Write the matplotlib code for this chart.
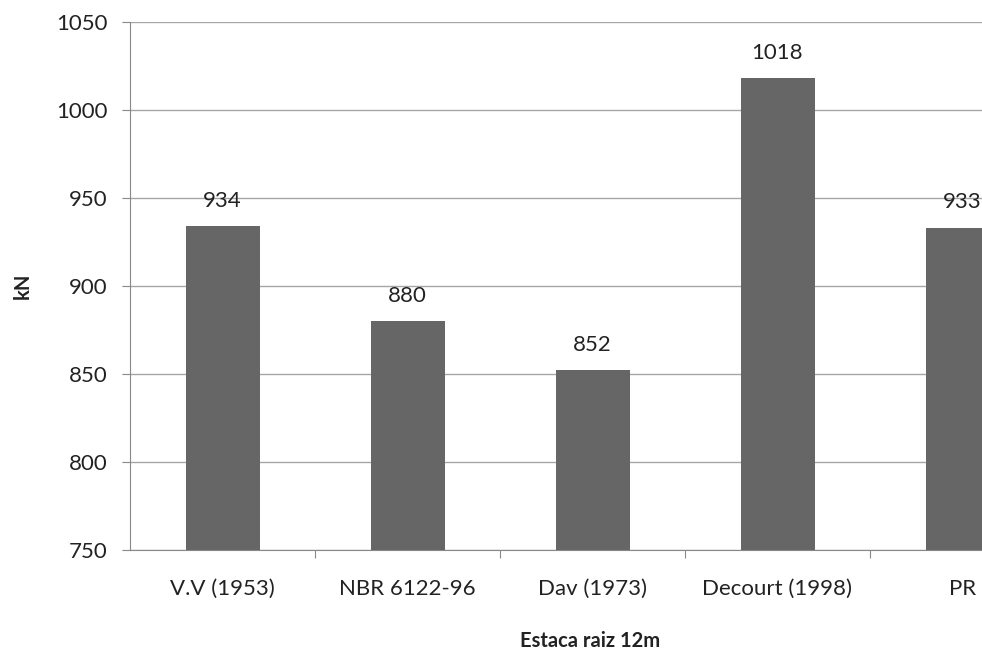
import matplotlib
matplotlib.use('Agg')
import matplotlib.pyplot as plt
import numpy as np

# Data
categories = ['V.V (1953)', 'NBR 6122-96', 'Dav (1973)', 'Decourt (1998)', 'PR']
values = [934, 880, 852, 1018, 933]
y_ticks = [750, 800, 850, 900, 950, 1000, 1050]

plt.rcParams['font.family'] = ['Lato', 'DejaVu Sans']

fig = plt.figure(figsize=(9.82, 6.5), dpi=100)
# plot area; the right side of the original chart is cut off by the image edge
ax = fig.add_axes([130 / 982, 100 / 650, 852 / 982, 528 / 650])

x = np.arange(len(categories))
ax.bar(x, values, width=0.4, color='#666666', zorder=3)

# value labels above the bars
for xi, v in zip(x, values):
    ax.text(xi, v + 14.5, str(v), ha='center', va='center', fontsize=16, color='#222222')

ax.set_ylim(750, 1050)
ax.set_yticks(y_ticks)
ax.set_xlim(-0.5, 4.5 - (1055 - 982) / 185)

# category boundaries as major ticks, labels on minor ticks
ax.set_xticks(np.arange(len(categories) - 1) + 0.5)
ax.set_xticklabels([])
ax.set_xticks(x, minor=True)
ax.set_xticklabels(categories, minor=True)
ax.tick_params(axis='x', which='major', length=6, color='#888888', direction='out')
ax.tick_params(axis='x', which='minor', length=0, pad=21, labelsize=16, labelcolor='#222222')
ax.tick_params(axis='y', length=6, color='#888888', pad=10, labelsize=16, labelcolor='#222222')

ax.grid(axis='y', color='#a6a6a6', linewidth=1, zorder=0)
for side in ['top', 'right']:
    ax.spines[side].set_visible(False)
for side in ['left', 'bottom']:
    ax.spines[side].set_color('#888888')

fig.text(23 / 982, 1 - 286 / 650, 'kN', rotation=90, ha='center', va='center',
         fontsize=14.5, fontweight='bold', color='#222222')
fig.text(590 / 982, 1 - 641 / 650, 'Estaca raiz 12m', ha='center', va='center',
         fontsize=14.5, fontweight='bold', color='#222222')

fig.savefig('out.png', dpi=100)
